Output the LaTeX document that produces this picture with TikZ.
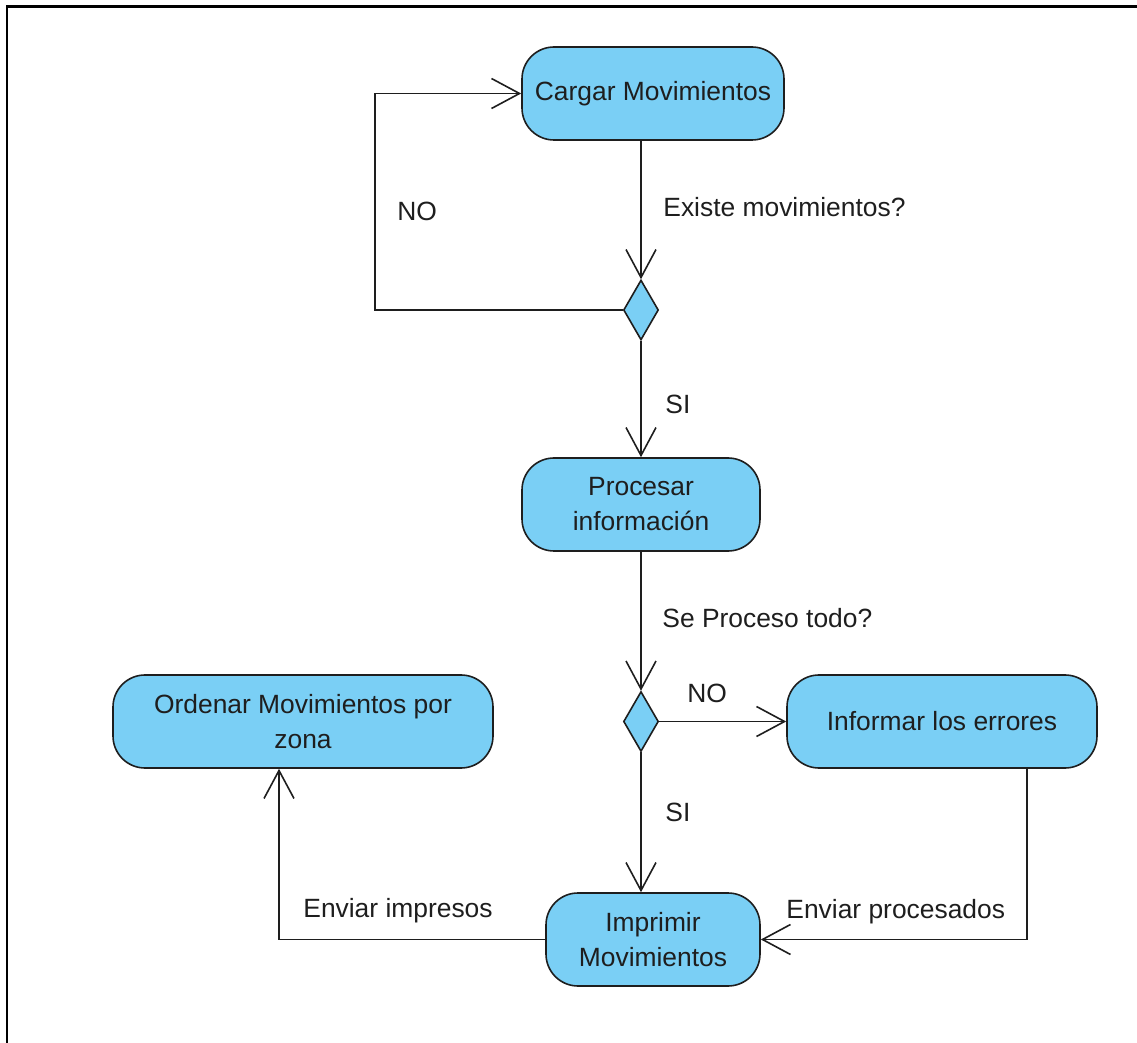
\documentclass[tikz,border=0pt]{standalone}
\usepackage{fontspec}
\setmainfont{Liberation Sans}
\usetikzlibrary{arrows.meta,shapes.geometric}
\definecolor{actfill}{RGB}{122,207,245}
\definecolor{ink}{RGB}{30,30,30}
\begin{document}
\begin{tikzpicture}[x=0.5pt,y=-0.5pt,
  font=\fontsize{13.2pt}{17.5pt}\selectfont,
  action/.style={draw=ink, line width=0.8pt, fill=actfill, rounded corners=16pt,
    minimum height=46.5pt, inner sep=0pt, align=center, text=ink},
  decision/.style={draw=ink, line width=0.8pt, fill=actfill, shape=diamond,
    minimum width=17.5pt, minimum height=30pt, inner sep=0pt},
  flow/.style={draw=ink, line width=0.8pt, line join=miter,
    -{Straight Barb[length=14pt,width=15pt,line width=0.8pt]}},
  lbl/.style={anchor=west, inner sep=0pt, text=ink}]

\useasboundingbox (0,0) rectangle (1137,1043);
% outer frame
\draw[line width=1.25pt, black] (7,1043) -- (7,6.3) -- (1137,6.3);

% activities and decisions
\node[action, minimum width=131pt] (cargar) at (653,93.5) {Cargar Movimientos};
\node[decision] (d1) at (641,310) {};
\node[action, minimum width=119pt] (proc) at (641,504.5) {Procesar\\informaci\'on};
\node[decision] (d2) at (641,721.5) {};
\node[action, minimum width=155pt] (inf) at (942,721.5) {Informar los errores};
\node[action, minimum width=190pt] (ord) at (303,721.5) {Ordenar Movimientos por\\zona};
\node[action, minimum width=107pt] (imp) at (653,939.5) {Imprimir\\Movimientos};

% routing points
\coordinate (noloop) at (375,310);
\coordinate (infout) at (1027,0);
\coordinate (ordin) at (279,0);

% connectors
\draw[flow] (d1.north |- cargar.south) -- (d1.north);
\draw[flow] (d1.west) -- (noloop) |- (cargar.west);
\draw[flow] (d1.south) -- (proc.south |- proc.north);
\draw[flow] (d2.north |- proc.south) -- (d2.north);
\draw[flow] (d2.east) -- (d2.east -| inf.west);
\draw[flow] (d2.south) -- (d2.south |- imp.north);
\draw[flow] (infout |- inf.south) |- (imp.east);
\draw[flow] (imp.west) -| (ordin |- ord.south);

% guard and flow labels
\node[lbl] (lex) at (663,207) {Existe movimientos?};
\node[lbl] (lno1) at (397,211) {NO};
\node[lbl] (lsi1) at (665,404) {SI};
\node[lbl] (lse) at (662,618) {Se Proceso todo?};
\node[lbl] (lno2) at (687,693) {NO};
\node[lbl] (lsi2) at (665,812) {SI};
\node[lbl] (lenvp) at (786,912) {Enviar procesados};
\node[lbl] (lenvi) at (303,911) {Enviar impresos};
\end{tikzpicture}
\end{document}
